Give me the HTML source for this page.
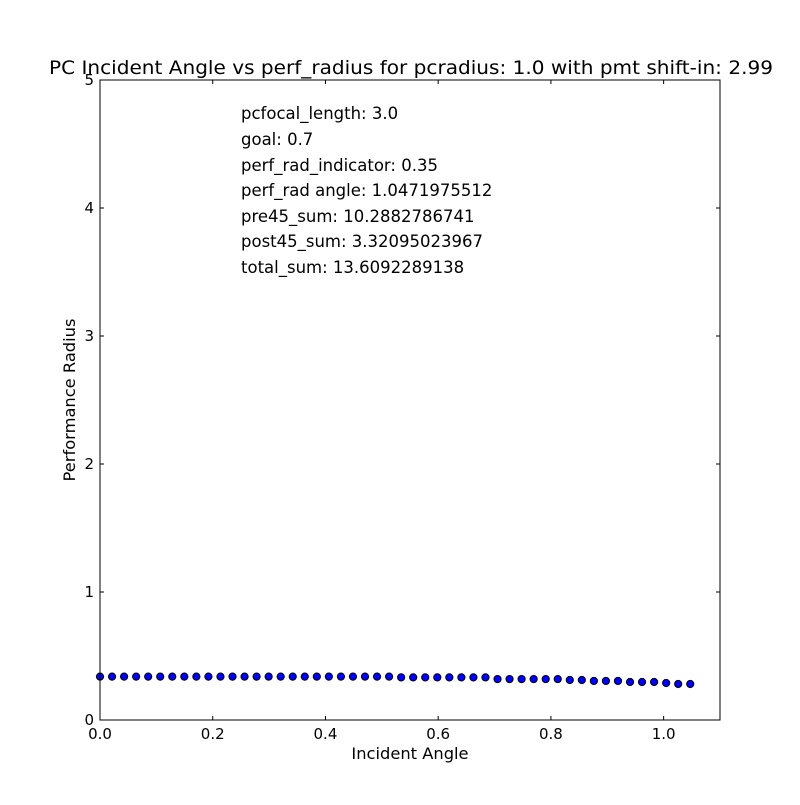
<!DOCTYPE html>
<html><head><meta charset="utf-8"><style>
body{margin:0;background:#fff}
text{font-family:"DejaVu Sans","Liberation Sans",sans-serif;fill:#000}
</style></head><body>
<svg width="800" height="800" xmlns="http://www.w3.org/2000/svg">
<rect width="800" height="800" fill="#fff"/>
<text x="49" y="74" font-size="19" textLength="724" lengthAdjust="spacingAndGlyphs">PC Incident Angle vs perf_radius for pcradius: 1.0 with pmt shift-in: 2.99</text>
<g id="ticks"></g>
<g id="pts"></g>
<rect x="100" y="80" width="620" height="640" fill="none" stroke="#000" stroke-width="1"/>
<g font-size="16.5">
<text x="241" y="119">pcfocal_length: 3.0</text>
<text x="241" y="145">goal: 0.7</text>
<text x="241" y="171">perf_rad_indicator: 0.35</text>
<text x="241" y="196">perf_rad angle: 1.0471975512</text>
<text x="241" y="222">pre45_sum: 10.2882786741</text>
<text x="241" y="247">post45_sum: 3.32095023967</text>
<text x="241" y="273">total_sum: 13.6092289138</text>
</g>
<text x="410" y="759" font-size="16.3" text-anchor="middle">Incident Angle</text>
<text transform="translate(75,400) rotate(-90)" font-size="16.3" text-anchor="middle">Performance Radius</text>
</svg>
<script>
const xTicks=[0,0.2,0.4,0.6,0.8,1.0];
const xTickLabels=["0.0","0.2","0.4","0.6","0.8","1.0"];
const yTicks=[0,1,2,3,4,5];
const yTickLabels=["0","1","2","3","4","5"];
const angles=[];
for(let i=0;i<50;i++)angles.push(i*1.0471975512/49);
const radii=[0.339,0.339,0.339,0.339,0.339,0.339,0.339,0.339,0.339,0.339,
0.339,0.339,0.339,0.339,0.339,0.339,0.339,0.339,0.339,0.339,
0.339,0.339,0.339,0.339,0.339,0.333,0.333,0.333,0.333,0.333,
0.333,0.333,0.333,0.320,0.320,0.320,0.320,0.320,0.320,0.3125,
0.3125,0.305,0.305,0.305,0.297,0.297,0.297,0.289,0.281,0.281];
const NS="http://www.w3.org/2000/svg";
const X=v=>100+v/1.1*620, Y=v=>720-v/5*640;
const tg=document.getElementById('ticks'), pg=document.getElementById('pts');
function mk(t,a,p){const e=document.createElementNS(NS,t);for(const k in a)e.setAttribute(k,a[k]);p.appendChild(e);return e;}
xTicks.forEach((v,i)=>{const x=X(v);
 const t1=mk('line',{x1:x,x2:x,y1:720,y2:716,stroke:'#000'},tg);
 
 
 mk('line',{x1:x,x2:x,y1:80,y2:84,stroke:'#000'},tg);
 const l=mk('text',{x:x,y:739,'font-size':15,'text-anchor':'middle'},tg);l.textContent=xTickLabels[i];
 
 
});
yTicks.forEach((v,i)=>{const y=Y(v);
 const t1=mk('line',{x1:100,x2:104,y1:y,y2:y,stroke:'#000'},tg);
 
 
 mk('line',{x1:716,x2:720,y1:y,y2:y,stroke:'#000'},tg);
 const l=mk('text',{x:94,y:y+5,'font-size':15,'text-anchor':'end'},tg);l.textContent=yTickLabels[i];
 
 
});
angles.forEach((a,i)=>{
 const c=mk('circle',{cx:X(a),cy:Y(radii[i]),r:3.6,fill:'#0000ff',stroke:'#000','stroke-width':1},pg);
 
 
});
</script>
</body></html>
